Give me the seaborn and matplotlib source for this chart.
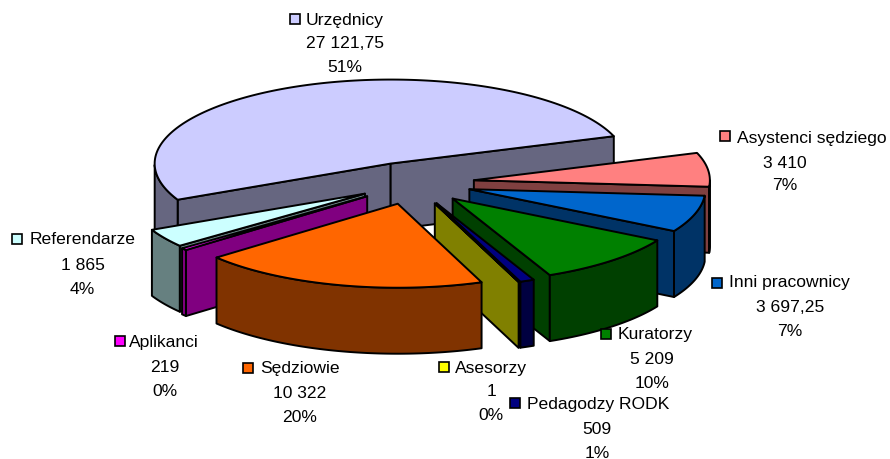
import numpy as np
import seaborn as sns
import matplotlib
import matplotlib.pyplot as plt
from matplotlib.patches import Polygon, Rectangle

matplotlib.use('Agg')
sns.set_theme(style="white")
plt.rcParams['font.family'] = ['Liberation Sans', 'DejaVu Sans']

# dane
names = ['Urzędnicy', 'Asystenci sędziego', 'Inni pracownicy', 'Kuratorzy', 'Pedagodzy RODK',
         'Asesorzy', 'Sędziowie', 'Aplikanci', 'Referendarze']
values = [27121.75, 3410, 3697.25, 5209, 509, 1, 10322, 219, 1865]
value_labels = ['27 121,75', '3 410', '3 697,25', '5 209', '509', '1', '10 322', '219', '1 865']
percent_labels = ['51%', '7%', '7%', '10%', '1%', '0%', '20%', '0%', '4%']

# styl
hex_colors = ['#CCCCFF', '#FF8080', '#0066CC', '#008000', '#000080',
              '#FFFF00', '#FF6600', '#FF00FF', '#CCFFFF']
palette = sns.color_palette(hex_colors)
explode = [0.25, 0.26, 0.25, 0.25, 0.26, 0.26, 0.255, 0.25, 0.24]
draw_order = [0, 1, 2, 8, 7, 3, 4, 5, 6]

# uklad (piksele)
cx, cy = 413, 183
rx, ry = 236, 84
depth = 66
start_angle = 205.5
key_pos = [(295, 19), (725, 136), (717, 283), (606, 334), (515, 403), (444, 367), (248, 368), (120, 341), (17, 239)]
name_pos = [(345, 19), (812, 137), (789, 282), (655, 334), (598, 403), (491, 367), (300, 368), (164, 341), (83, 239)]
val_pos = [(345, 43), (785, 162), (790, 306), (652, 359), (597, 428), (491, 391), (300, 392), (165, 366), (83, 264)]
pct_pos = [(345, 66), (785, 185), (790, 331), (652, 383), (597, 452), (491, 414), (300, 416), (165, 390), (82, 288)]

fig = plt.figure(figsize=(8.9, 4.59), dpi=100)
ax = fig.add_axes([0, 0, 1, 1])
ax.set_xlim(0, 890)
ax.set_ylim(459, 0)
ax.axis('off')

sweeps = 360 * np.array(values) / sum(values)
ends = start_angle - np.cumsum(sweeps)
starts = ends + sweeps


def point(ox, oy, t):
    return ox + rx * np.cos(np.radians(t)), oy - ry * np.sin(np.radians(t))


def add_poly(pts, color):
    ax.add_patch(Polygon(pts, closed=True, facecolor=color, edgecolor='black', linewidth=1.4, joinstyle='round'))


def wall(ox, oy, t, color):
    x, y = point(ox, oy, t)
    add_poly([(ox, oy), (x, y), (x, y + depth), (ox, oy + depth)], color)


for i in draw_order:
    t1, t2 = starts[i], ends[i]
    mid = (t1 + t2) / 2
    ox = cx + explode[i] * rx * np.cos(np.radians(mid))
    oy = cy - explode[i] * ry * np.sin(np.radians(mid))
    top = palette[i]
    side = tuple(np.array(top) * 0.5)

    # tylko sciany widoczne od frontu
    if np.cos(np.radians(t1)) < 0:
        wall(ox, oy, t1, side)
    if np.cos(np.radians(t2)) > 0:
        wall(ox, oy, t2, side)

    ts = np.linspace(t1, t2, 160)
    xs, ys = point(ox, oy, ts)
    front = np.sin(np.radians(ts)) <= 0
    if front.any():
        rim = list(zip(xs[front], ys[front])) + list(zip(xs[front][::-1], ys[front][::-1] + depth))
        add_poly(rim, side)
    add_poly([(ox, oy)] + list(zip(xs, ys)), top)

for i in range(len(names)):
    kx, ky = key_pos[i]
    ax.add_patch(Rectangle((kx - 5, ky - 5), 10, 10, facecolor=palette[i], edgecolor='black', linewidth=1.2))
    for (x, y), s in zip((name_pos[i], val_pos[i], pct_pos[i]), (names[i], value_labels[i], percent_labels[i])):
        ax.text(x, y + 1, s, ha='center', va='center', fontsize=12.6, color='black')

fig.savefig('out.png', dpi=100)
